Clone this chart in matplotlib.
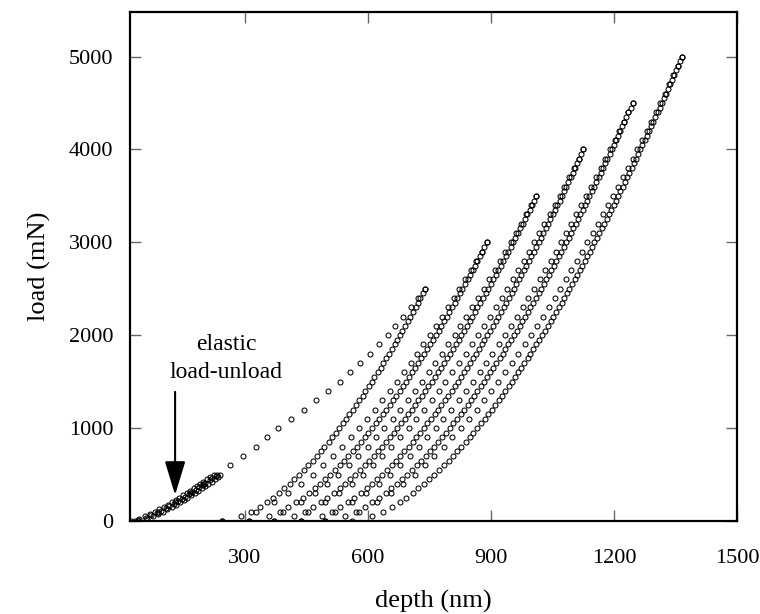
import matplotlib
matplotlib.use("Agg")
import matplotlib.pyplot as plt

plt.rcParams['font.family'] = ['Liberation Serif', 'DejaVu Serif']

# load levels (mN): full steps and half steps, each branch uses the first len(depth) values
LOADS = [0, 100, 200, 300, 400, 500, 600, 700, 800, 900,
         1000, 1100, 1200, 1300, 1400, 1500, 1600, 1700, 1800, 1900,
         2000, 2100, 2200, 2300, 2400, 2500, 2600, 2700, 2800, 2900,
         3000, 3100, 3200, 3300, 3400, 3500, 3600, 3700, 3800, 3900,
         4000, 4100, 4200, 4300, 4400, 4500, 4600, 4700, 4800, 4900, 5000]
HALF_LOADS = [50, 150, 250, 350, 450, 550, 650, 750, 850, 950,
              1050, 1150, 1250, 1350, 1450, 1550, 1650, 1750, 1850, 1950,
              2050, 2150, 2250, 2350, 2450, 2550, 2650, 2750, 2850, 2950,
              3050, 3150, 3250, 3350, 3450, 3550, 3650, 3750, 3850, 3950,
              4050, 4150, 4250, 4350, 4450, 4550, 4650, 4750, 4850, 4950]

# elastic load-unload loop, finer load steps
ELASTIC_LOADS = [0, 25, 50, 75, 100, 125, 150, 175, 200, 225, 250,
                 275, 300, 325, 350, 375, 400, 425, 450, 475, 500]
ELASTIC_MID = [12, 37, 62, 87, 112, 137, 162, 187, 212, 237,
               262, 287, 312, 337, 362, 387, 412, 437, 462, 487]
elastic_up = [22, 41, 56, 69, 80, 91, 102, 112, 122, 131, 140,
              149, 158, 166, 175, 183, 191, 199, 207, 214, 224]
elastic_down = [40, 61, 76, 89, 100, 111, 122, 132, 142, 151, 160,
                169, 178, 186, 195, 203, 211, 219, 227, 234, 240]
elastic_reload = [40, 60, 72, 86, 95, 108, 116, 128, 136, 147,
                  154, 165, 171, 182, 188, 198, 204, 214, 220, 229]

# depth (nm) of each branch at LOADS
load1 = [33, 88, 130, 166, 199, 232, 265, 296, 326, 354, 381, 412, 443, 473,
         503, 532, 557, 581, 604, 627, 648, 667, 686, 705, 723, 740]
unload1 = [244, 316, 353, 383, 409, 433, 455, 475, 494, 513, 530, 547, 563,
           579, 594, 609, 624, 637, 651, 665, 678, 691, 703, 716, 728, 740]
load2 = [244, 328, 371, 406, 437, 465, 490, 514, 536, 558, 578, 598, 617, 635,
         653, 670, 687, 704, 720, 735, 751, 766, 780, 795, 809, 823, 837, 851,
         864, 877, 890]
unload2 = [310, 385, 424, 456, 483, 508, 531, 552, 573, 592, 610, 628, 645,
           661, 677, 693, 708, 723, 737, 751, 765, 778, 792, 805, 818, 830,
           843, 855, 867, 878, 890]
load3 = [310, 393, 436, 470, 501, 528, 553, 577, 599, 620, 640, 660, 678, 697,
         714, 731, 748, 764, 780, 795, 811, 825, 840, 854, 869, 882, 896, 909,
         922, 935, 948, 961, 974, 986, 998, 1010]
unload3 = [370, 446, 485, 517, 544, 569, 592, 614, 634, 653, 672, 690, 707,
           723, 739, 755, 770, 785, 799, 814, 828, 841, 854, 867, 881, 893,
           906, 918, 930, 942, 953, 965, 977, 988, 999, 1010]
load4 = [370, 453, 495, 530, 560, 587, 612, 635, 657, 679, 699, 718, 737, 755,
         772, 789, 806, 822, 838, 853, 868, 883, 897, 912, 926, 940, 953, 966,
         980, 993, 1005, 1018, 1030, 1043, 1055, 1067, 1079, 1091, 1102, 1114,
         1125]
unload4 = [437, 512, 551, 582, 610, 635, 658, 679, 699, 718, 737, 754, 771,
           788, 804, 819, 834, 849, 863, 877, 891, 904, 918, 931, 944, 956,
           969, 981, 992, 1004, 1016, 1027, 1039, 1050, 1061, 1072, 1083, 1094,
           1104, 1115, 1125]
load5 = [437, 519, 562, 596, 626, 653, 678, 702, 724, 745, 765, 784, 803, 821,
         838, 855, 872, 888, 903, 919, 934, 949, 963, 977, 991, 1005, 1019,
         1032, 1045, 1058, 1070, 1083, 1096, 1108, 1120, 1132, 1144, 1156,
         1167, 1179, 1190, 1201, 1212, 1223, 1234, 1245]
unload5 = [495, 571, 611, 643, 671, 696, 719, 741, 761, 781, 799, 817, 834,
           851, 867, 883, 898, 913, 928, 942, 956, 970, 983, 996, 1010, 1022,
           1035, 1047, 1059, 1071, 1083, 1095, 1106, 1118, 1129, 1140, 1151,
           1162, 1173, 1183, 1194, 1204, 1215, 1225, 1235, 1245]
load6 = [495, 578, 621, 656, 686, 714, 739, 762, 785, 806, 826, 846, 865, 883,
         900, 917, 934, 950, 966, 982, 997, 1012, 1026, 1041, 1055, 1069, 1083,
         1096, 1109, 1122, 1135, 1148, 1161, 1173, 1185, 1197, 1209, 1221,
         1233, 1245, 1256, 1267, 1279, 1290, 1301, 1312, 1323, 1333, 1344,
         1355, 1365]
unload6 = [560, 637, 677, 709, 737, 762, 786, 808, 828, 848, 867, 885, 902,
           919, 935, 951, 966, 981, 996, 1010, 1025, 1038, 1052, 1065, 1078,
           1091, 1104, 1116, 1128, 1141, 1152, 1164, 1176, 1188, 1199, 1210,
           1221, 1232, 1243, 1254, 1264, 1275, 1285, 1295, 1306, 1316, 1326,
           1336, 1346, 1355, 1365]

# unloading branches are sampled twice as often: depth (nm) at HALF_LOADS
unload1_mid = [291, 336, 369, 396, 421, 444, 465, 485, 504, 522, 539, 555,
               571, 587, 602, 616, 631, 644, 658, 671, 684, 697, 710, 722, 734]
unload2_mid = [360, 406, 441, 470, 496, 520, 542, 563, 582, 601, 619, 636,
               653, 669, 685, 700, 715, 730, 744, 758, 772, 785, 798, 811, 824,
               836, 849, 861, 873, 884]
unload3_mid = [420, 467, 501, 531, 557, 581, 603, 624, 644, 663, 681, 698,
               715, 731, 747, 763, 778, 792, 807, 821, 834, 848, 861, 874, 887,
               899, 912, 924, 936, 948, 959, 971, 982, 994, 1005]
unload4_mid = [487, 533, 567, 597, 623, 646, 668, 689, 709, 727, 745, 763,
               779, 796, 811, 827, 841, 856, 870, 884, 898, 911, 924, 937, 950,
               962, 974, 986, 998, 1010, 1022, 1033, 1044, 1056, 1067, 1077,
               1088, 1099, 1109, 1120]
unload5_mid = [545, 592, 627, 657, 683, 708, 730, 751, 771, 790, 808, 826,
               843, 859, 875, 891, 906, 921, 935, 949, 963, 976, 990, 1003,
               1016, 1028, 1041, 1053, 1065, 1077, 1089, 1101, 1112, 1123,
               1135, 1146, 1157, 1167, 1178, 1189, 1199, 1210, 1220, 1230, 1240]
unload6_mid = [611, 658, 693, 723, 750, 774, 797, 818, 838, 857, 876, 893,
               910, 927, 943, 959, 974, 989, 1003, 1018, 1032, 1045, 1059,
               1072, 1085, 1097, 1110, 1122, 1135, 1147, 1158, 1170, 1182,
               1193, 1204, 1215, 1227, 1237, 1248, 1259, 1269, 1280, 1290,
               1300, 1311, 1321, 1331, 1341, 1350, 1360]

branches = [load1, unload1, load2, unload2, load3, unload3,
            load4, unload4, load5, unload5, load6, unload6]
mid_branches = [unload1_mid, unload2_mid, unload3_mid,
                unload4_mid, unload5_mid, unload6_mid]

X_TICKS = [300, 600, 900, 1200, 1500]
Y_TICKS = [0, 1000, 2000, 3000, 4000, 5000]

fig = plt.figure(figsize=(7.6, 6.14), dpi=100)
ax = fig.add_axes([0.171, 0.1515, 0.799, 0.829])

style = dict(ls='none', marker='o', ms=3.6, mfc='none', mec='black', mew=0.75)
ax.plot(elastic_up, ELASTIC_LOADS, **style)
ax.plot(elastic_down, ELASTIC_LOADS, **style)
ax.plot(elastic_reload, ELASTIC_MID, **style)
for depth in branches:
    ax.plot(depth, LOADS[:len(depth)], **style)
for depth in mid_branches:
    ax.plot(depth, HALF_LOADS[:len(depth)], **style)

ax.set_xlim(20, 1500)
ax.set_ylim(0, 5480)
ax.set_xticks(X_TICKS)
ax.set_yticks(Y_TICKS)
ax.tick_params(direction='in', length=8, width=1, color='#666666',
               top=True, right=True, labelsize=16)
ax.tick_params(axis='x', pad=20)
ax.tick_params(axis='y', pad=12)
for sp in ax.spines.values():
    sp.set_linewidth(1.6)

ax.set_xlabel('depth (nm)', fontsize=19, labelpad=16)
ax.set_ylabel('load (mN)', fontsize=19, labelpad=13)

ax.annotate('', xy=(130, 280), xytext=(130, 1390),
            arrowprops=dict(arrowstyle='-|>,head_length=1.05,head_width=0.32',
                            mutation_scale=20, shrinkA=0, shrinkB=0,
                            color='black', lw=1.5))
ax.text(254, 1751, 'elastic\nload-unload', ha='center', va='center',
        fontsize=17, linespacing=1.4)

fig.savefig('out.png', dpi=100)
